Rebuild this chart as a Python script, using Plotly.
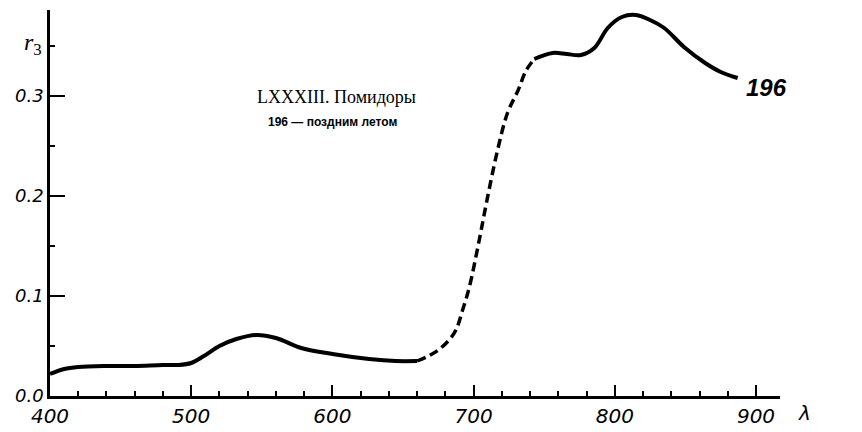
import plotly.graph_objects as go

# Wavelength (nm) and reflectance r3
wl_solid_a = [400, 410, 420, 440, 460, 480, 490, 500, 509, 520, 532, 546, 560, 578, 600, 626, 645, 660]
r_solid_a = [0.022, 0.027, 0.029, 0.030, 0.030, 0.031, 0.031, 0.033, 0.040, 0.050, 0.057, 0.061, 0.058, 0.048, 0.042, 0.037, 0.035, 0.035]

wl_dashed = [660, 668, 675, 682, 687.5, 692, 697, 704, 709.5, 717, 724, 731.6, 737, 743]
r_dashed = [0.035, 0.040, 0.046, 0.055, 0.066, 0.085, 0.109, 0.156, 0.196, 0.246, 0.283, 0.306, 0.325, 0.337]

wl_solid_b = [743, 756, 766, 776, 785.5, 795, 805, 815, 825, 835, 849, 864, 875, 887]
r_solid_b = [0.337, 0.343, 0.342, 0.341, 0.348, 0.368, 0.379, 0.381, 0.376, 0.368, 0.349, 0.333, 0.324, 0.318]

x_ticks = [400, 500, 600, 700, 800, 900]
x_tick_labels = ["400", "500", "600", "700", "800", "900"]
y_ticks = [0.0, 0.1, 0.2, 0.3]
y_tick_labels = ["0.0", "0.1", "0.2", "0.3"]

title_text = "LXXXIII. Помидоры"
subtitle_text = "196 — поздним летом"
curve_label = "196"

fig = go.Figure()
line_style = dict(color="black", width=4, shape="spline", smoothing=1.0)
fig.add_trace(go.Scatter(x=wl_solid_a, y=r_solid_a, mode="lines", line=line_style, hoverinfo="skip"))
fig.add_trace(go.Scatter(x=wl_dashed, y=r_dashed, mode="lines",
                         line=dict(color="black", width=3.5, shape="spline", smoothing=1.0, dash="9px,5px"),
                         hoverinfo="skip"))
fig.add_trace(go.Scatter(x=wl_solid_b, y=r_solid_b, mode="lines", line=line_style, hoverinfo="skip"))

tick_font = dict(family="DejaVu Sans", size=20, color="black", style="italic")

# the page body has an 8px default margin, so the figure is sized to fit the 862x432 window
fig.update_layout(
    width=854, height=424,
    margin=dict(l=42, r=82, t=2, b=36, autoexpand=False),
    paper_bgcolor="white", plot_bgcolor="white",
    showlegend=False,
    xaxis=dict(
        range=[400, 917], tickvals=x_ticks, ticktext=x_tick_labels, automargin=False,
        showgrid=False, zeroline=False, showline=True, linecolor="black", linewidth=2.5,
        ticks="inside", ticklen=11, tickwidth=2, tickcolor="black",
        minor=dict(dtick=20, tick0=400, ticks="inside", ticklen=5, tickwidth=1.5, tickcolor="black"),
        tickfont=tick_font,
    ),
    yaxis=dict(
        range=[0, 0.386], tickvals=y_ticks, ticktext=y_tick_labels, automargin=False,
        showgrid=False, zeroline=False, showline=True, linecolor="black", linewidth=2.5,
        ticks="inside", ticklen=15, tickwidth=1.5, tickcolor="black",
        minor=dict(dtick=0.05, tick0=0, ticks="inside", ticklen=5, tickwidth=1.5, tickcolor="black"),
        tickfont=dict(family="DejaVu Sans", size=18, color="black", style="italic"),
    ),
)


def px(xp):
    return (xp - 50) / 730.0


def py(yp):
    return (396 - yp) / 386.0


def note(xp, yp, text, font):
    fig.add_annotation(x=px(xp), y=py(yp), xref="paper", yref="paper", text=text,
                       showarrow=False, xanchor="center", yanchor="middle", font=font)


note(33, 44, "<i>r</i><sub>3</sub>", dict(family="Liberation Serif", size=24, color="black"))
note(336, 97, title_text, dict(family="Liberation Serif", size=18, color="black"))
note(332, 122, "<b>" + subtitle_text + "</b>", dict(family="Liberation Sans", size=12, color="black"))
note(766, 87, "<b><i>" + curve_label + "</i></b>", dict(family="Liberation Sans", size=24, color="black"))
note(805, 413, "<i>λ</i>", dict(family="DejaVu Sans", size=20, color="black"))

fig.write_html("out.html")
